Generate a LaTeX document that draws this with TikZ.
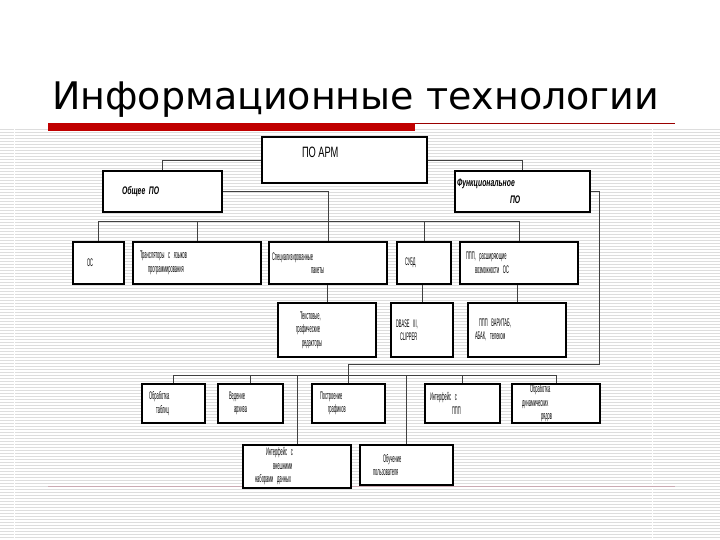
\documentclass[tikz,border=0pt]{standalone}
\usepackage{fontspec}
\setmainfont{Liberation Sans}
\newfontfamily\titlefont{DejaVu Sans}
\newfontfamily\narrowfont[FakeStretch=0.365]{Liberation Sans}
\newfontfamily\headfont[FakeStretch=0.62]{Liberation Sans}
\newcommand\tightsp[1]{\spaceskip=#1 plus 0.5pt\relax}
\usepackage{tikz}
\usetikzlibrary{positioning,calc}
\definecolor{slidered}{HTML}{C00000}
\definecolor{stripegray}{HTML}{DDDDDD}
\definecolor{footpink}{HTML}{CBAAB3}

\begin{document}
\begin{tikzpicture}[x=1pt,y=-1pt,box/.style={draw=black,line width=1.8pt,fill=white,inner sep=0pt,align=left,font=\narrowfont\fontsize{11}{13.5}\selectfont\tightsp{1.6pt}},head/.style={box,font=\headfont\bfseries\itshape\fontsize{11}{17}\selectfont\tightsp{2.5pt}},wire/.style={draw=black!75,line width=0.8pt},stripe/.style={draw=stripegray,line width=1pt}]
\useasboundingbox (0,0) rectangle (720,540);
% background
\foreach \k in {0,...,136} \draw[stripe] (0,{129.5+3*\k}) -- (720,{129.5+3*\k});
\fill[white] (13.5,128) rectangle (15,540);\fill[white] (651.5,128) rectangle (653,540);
\node[font=\titlefont\fontsize{38}{40}\selectfont,anchor=base west,inner sep=0pt] (title) at (52,110) {Информационные технологии};
\fill[slidered] (48,123) rectangle (415,131);
\draw[slidered!80!black,line width=0.8pt] (415,123.5) -- (675,123.5);
\draw[footpink,line width=0.8pt] (48,486) -- (675,486);
% top level
\node[box,text width=165pt,minimum height=46pt] (arm) at (344.5,160) {\hspace*{40pt}\headfont\fontsize{15}{18}\selectfont\tightsp{2.5pt}\raisebox{2.6pt}[0pt][0pt]{ПО АРМ}};
\node[head,text width=119pt,minimum height=41pt] (gen) at (162.5,191.5) {\hspace*{19pt}Общее ПО};
\node[head,text width=135pt,minimum height=41pt] (fun) at (522.5,191.5) {\hspace*{2pt}Функциональное\\\hspace*{55pt}ПО};
% general software
\node[box,text width=51pt,minimum height=42pt] (os) at (98.5,263) {\hspace*{14pt}ОС};
\node[box,text width=128pt,minimum height=42pt] (tr) at (197,263) {\hspace*{7pt}Трансляторы с языков\\\hspace*{15pt}программирования};
\node[box,text width=118pt,minimum height=42pt] (spec) at (328,263) {\hspace*{3pt}Специализированные\\\hspace*{42pt}пакеты};
\node[box,text width=54pt,minimum height=42pt] (dbms) at (424,263) {\hspace*{8pt}СУБД};
\node[box,text width=118pt,minimum height=42pt] (ext) at (519,263) {\hspace*{6pt}ППП, расширяющие\\\hspace*{15pt}возможности ОС};
\node[box,text width=98pt,minimum height=54pt] (edit) at (327,330) {\hspace*{22pt}Текстовые,\\\hspace*{18pt}графические\\\hspace*{24pt}редакторы};
\node[box,text width=62pt,minimum height=54pt] (dbase) at (422,330) {\hspace*{5pt}DBASE III,\\\hspace*{9pt}CLIPPER};
\node[box,text width=98pt,minimum height=54pt] (calc) at (517,330) {\hspace*{11pt}ППП ВАРИТАБ,\\\hspace*{7pt}АБАК, телеком};
% functional software
\node[box,text width=63pt,minimum height=39pt] (tab) at (173.5,403.5) {\hspace*{7pt}Обработка\\\hspace*{14pt}таблиц};
\node[box,text width=65pt,minimum height=39pt] (arch) at (250.5,403.5) {\hspace*{11pt}Ведение\\\hspace*{16pt}архива};
\node[box,text width=73pt,minimum height=39pt] (plot) at (348.5,403.5) {\hspace*{8pt}Построение\\\hspace*{16pt}графиков};
\node[box,text width=75pt,minimum height=39pt] (ifp) at (462.5,403.5) {\hspace*{5pt}Интерфейс с\\\hspace*{27pt}ППП};
\node[box,text width=88pt,minimum height=39pt] (dyn) at (556,403.5) {\hspace*{18pt}Обработка\\\hspace*{10pt}динамических\\\hspace*{29pt}рядов};
\node[box,text width=108pt,minimum height=43pt] (ifd) at (297,466.5) {\hspace*{23pt}Интерфейс с\\\hspace*{30pt}внешними\\\hspace*{12pt}наборами данных};
\node[box,text width=93pt,minimum height=40pt] (learn) at (406.5,465) {\hspace*{23pt}Обучение\\\hspace*{13pt}пользователя};
% connectors
\coordinate (bus2) at (0,221);\coordinate (bus4) at (0,375);\coordinate (rt) at (599,364);
\draw[wire] (arm.west) -| (gen.north);\draw[wire] (arm.east) -| (fun.north);
\draw[wire] (gen.east) -| (spec.north);
\draw[wire] (os.north) -- (os.north |- bus2) -- (ext.north |- bus2) -- (ext.north);
\foreach \n in {tr,dbms} \draw[wire] (\n.north) -- (\n.north |- bus2);
\foreach \a/\b in {spec/edit,dbms/dbase,ext/calc} \draw[wire] (\b.north) -- (\b.north |- \a.south);
\draw[wire] (fun.east) -| (rt) -| (plot.north);
\draw[wire] (tab.north) -- (tab.north |- bus4) -- (dyn.north |- bus4) -- (dyn.north);
\foreach \n in {arch,ifp,ifd,learn} \draw[wire] (\n.north) -- (\n.north |- bus4);
\end{tikzpicture}
\end{document}
